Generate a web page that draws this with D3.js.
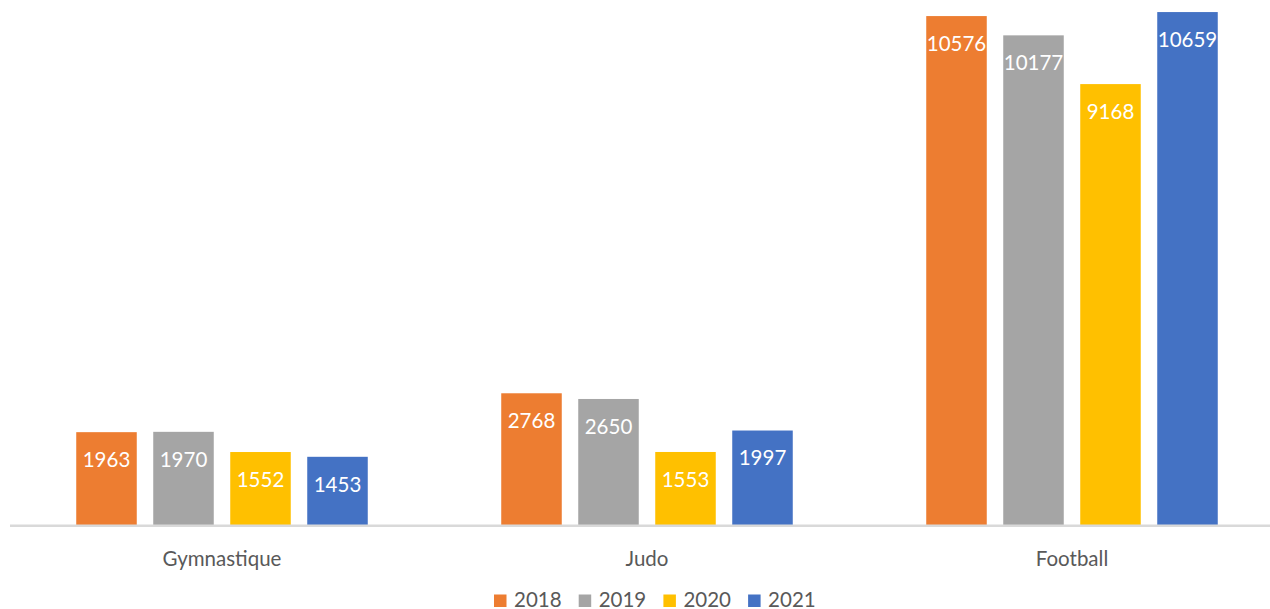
<!DOCTYPE html>
<html>
<head>
<meta charset="utf-8">
<script src="https://cdn.jsdelivr.net/npm/d3@7/dist/d3.min.js"></script>
<style>
  html, body { margin: 0; padding: 0; background: #ffffff; }
  svg { display: block; }
  text { font-family: Lato, "Open Sans", sans-serif; }
</style>
</head>
<body>
<svg id="chart" width="1270" height="609"></svg>
<script>
// Licences par discipline et par année
const categories = ["Gymnastique", "Judo", "Football"];
const years = ["2018", "2019", "2020", "2021"];
const values2018 = [1963, 2768, 10576];
const values2019 = [1970, 2650, 10177];
const values2020 = [1552, 1553, 9168];
const values2021 = [1453, 1997, 10659];
const seriesValues = [values2018, values2019, values2020, values2021];
const colors = ["#ED7D31", "#A5A5A5", "#FFC000", "#4472C4"];

const svg = d3.select("#chart");

const x0 = d3.scaleBand().domain(categories).range([9.5, 1284.5]).padding(0);
const groupWidth = 308;
const x1 = d3.scaleBand().domain(years)
  .range([-groupWidth / 2, groupWidth / 2])
  .paddingInner(0.214).paddingOuter(0.107);
const y = d3.scaleLinear().domain([0, 10000]).range([527, 527 - 483.1]);

const rows = categories.map((c, i) => ({
  category: c,
  bars: years.map((yr, j) => ({ year: yr, value: seriesValues[j][i], color: colors[j] }))
}));

const groups = svg.append("g").selectAll("g")
  .data(rows).join("g")
  .attr("transform", d => `translate(${x0(d.category) + x0.bandwidth() / 2},0)`);

groups.selectAll("rect")
  .data(d => d.bars).join("rect")
  .attr("x", d => x1(d.year))
  .attr("width", x1.bandwidth())
  .attr("y", d => y(d.value))
  .attr("height", d => y(0) - y(d.value))
  .attr("fill", d => d.color);

groups.selectAll("text.value")
  .data(d => d.bars).join("text")
  .attr("class", "value")
  .attr("x", d => x1(d.year) + x1.bandwidth() / 2)
  .attr("y", d => y(d.value) + 34.7)
  .attr("text-anchor", "middle")
  .attr("font-size", 20.5)
  .attr("fill", "#ffffff")
  .text(d => d.value);

// Category axis
const xAxis = d3.axisBottom(x0).tickSize(0).tickPadding(0);
const axisG = svg.append("g")
  .attr("transform", `translate(0,${y(0) - 1.2})`)
  .call(xAxis);
axisG.select(".domain").remove();
axisG.append("line")
  .attr("x1", 10).attr("x2", 1270)
  .attr("y1", 0).attr("y2", 0)
  .attr("stroke", "#d9d9d9").attr("stroke-width", 2.6);
axisG.selectAll(".tick text")
  .attr("y", 40.2)
  .attr("dy", 0)
  .attr("font-size", 20.5)
  .attr("font-family", "Lato, 'Open Sans', sans-serif")
  .attr("fill", "#595959");

// Legend
const legend = svg.append("g").selectAll("g")
  .data(years).join("g")
  .attr("transform", (d, i) => `translate(${494 + i * 84.7},0)`);
legend.append("rect")
  .attr("x", 0).attr("y", 594.5)
  .attr("width", 12.5).attr("height", 12.5)
  .attr("fill", (d, i) => colors[i]);
legend.append("text")
  .attr("x", 20).attr("y", 606.8)
  .attr("font-size", 20.5)
  .attr("fill", "#595959")
  .text(d => d);
</script>
</body>
</html>
